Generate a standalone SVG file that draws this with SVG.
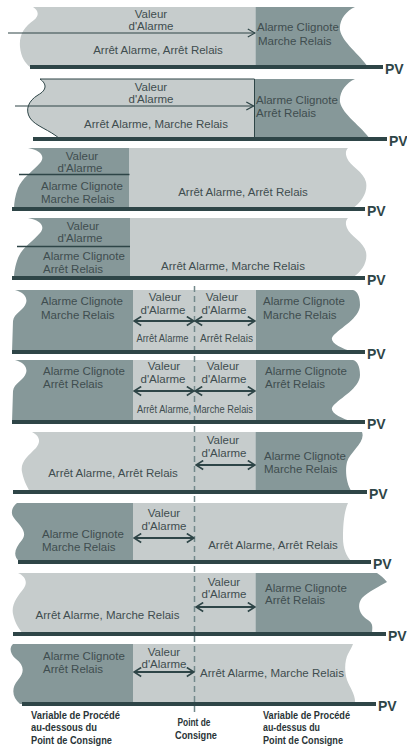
<svg xmlns="http://www.w3.org/2000/svg" width="407" height="750" viewBox="0 0 407 750">
<style>
.lt{fill:#c6cccc}
.dk{fill:#869899}
.t{font-family:"Liberation Sans",Arial,sans-serif;font-size:11.5px;fill:#3f4d4f}
.c{text-anchor:middle}
.pv{font-family:"Liberation Sans",Arial,sans-serif;font-size:14px;font-weight:bold;fill:#2e4547}
.b{font-family:"Liberation Sans",Arial,sans-serif;font-size:10px;font-weight:bold;fill:#2a3537}
.ax{stroke:#2e4547;stroke-width:4;fill:none}
.ar1{stroke:#2e4547;stroke-width:1.2;fill:none}
.ar2{stroke:#2e4547;stroke-width:1.8;fill:none}
.sep{stroke:#2e4547;stroke-width:1.6;fill:none}
.dash{stroke:#72888a;stroke-width:1.5;stroke-dasharray:6 4;fill:none}
</style>
<defs>
<marker id="h1" viewBox="0 0 10 10" refX="9" refY="5" markerWidth="9" markerHeight="10" markerUnits="userSpaceOnUse" orient="auto-start-reverse">
<path d="M1,0.5 L9,5 L1,9.5" fill="none" stroke="#2e4547" stroke-width="1.3"/>
</marker>
<marker id="h2" viewBox="0 0 10 12" refX="9" refY="6" markerWidth="9" markerHeight="11" markerUnits="userSpaceOnUse" orient="auto-start-reverse">
<path d="M1,1 L9,6 L1,11" fill="none" stroke="#2e4547" stroke-width="1.8"/>
</marker>
<clipPath id="c1"><path d="M33,7 C38,10 40,15 34,20 C24,27 19,35 20,47 C21,57 25,63 30,67 L368,67 C360,55 342,42 340,30 C339,20 346,11 355,7 Z"/></clipPath>
<clipPath id="c2"><path d="M40,79 C47,84 47,90 38,95 C28,101 25,110 30,118 C35,126 50,130 60,139 L370,139 C362,127 342,114 340,102 C339,92 346,83 355,79 Z"/></clipPath>
<clipPath id="c3"><path d="M28,148 C40,150 46,156 40,163 C32,172 22,178 18,188 C15,196 14,203 14,209 L352,209 C362,202 368,192 366,182 C364,172 350,166 347,158 C345,153 346,150 348,148 Z"/></clipPath>
<clipPath id="c4"><path d="M28,218 C40,220 46,226 40,233 C32,242 22,248 18,258 C15,266 14,273 14,278 L352,278 C362,272 368,262 366,252 C364,242 350,236 347,228 C345,223 346,220 348,218 Z"/></clipPath>
<clipPath id="c5"><path d="M15,290 C23,292 28,297 26,303 C24,310 14,313 13,321 L12,352 L353,352 C340,348 328,342 333,336 C340,328 360,318 360,305 C360,296 357,291 353,290 Z"/></clipPath>
<clipPath id="c6"><path d="M15,360 C23,362 28,367 26,373 C24,380 14,383 13,391 L12,422 L353,422 C340,418 328,412 333,406 C340,398 360,388 360,375 C360,366 357,361 353,360 Z"/></clipPath>
<clipPath id="c7"><path d="M32,432 C40,436 41,442 36,448 C28,456 20,462 22,472 C24,482 28,488 30,492 L352,492 C346,484 345,470 347,462 C350,452 366,442 362,432 Z"/></clipPath>
<clipPath id="c8"><path d="M17,503 C12,507 10,513 14,518 C20,526 28,532 22,540 C15,548 12,556 20,562 L352,562 C346,556 343,548 343,538 C343,525 344,512 348,503 Z"/></clipPath>
<clipPath id="c9"><path d="M18,573 C25,576 28,582 24,588 C18,596 11,604 13,614 C15,624 20,630 23,634 L372,634 C372,628 374,624 368,620 C360,615 356,606 362,598 C368,592 380,586 387,582 C384,578 380,575 377,573 Z"/></clipPath>
<clipPath id="c10"><path d="M13,644 C9,648 10,654 16,659 C24,665 25,672 18,680 C11,688 12,697 20,704 L355,704 C356,695 350,688 347,680 C344,670 345,660 348,654 C350,650 352,647 353,644 Z"/></clipPath>
</defs>

<g id="panel1">
<g clip-path="url(#c1)"><rect class="lt" x="0" y="0" width="255.5" height="72"/><rect class="dk" x="255.5" y="0" width="152" height="72"/></g>
<text class="t c" x="151" y="18">Valeur</text>
<text class="t c" x="151" y="30">d'Alarme</text>
<text class="t c" x="158" y="54">Arrêt Alarme, Arrêt Relais</text>
<text class="t" x="257" y="31">Alarme Clignote</text>
<text class="t" x="258" y="45">Marche Relais</text>
</g>

<g id="panel2">
<g clip-path="url(#c2)"><rect class="lt" x="0" y="75" width="254.5" height="70"/><rect class="dk" x="254.5" y="75" width="153" height="70"/></g>
<path d="M60,139 C50,130 35,126 30,118 C25,110 28,101 38,95 C47,90 47,84 40,79 L254.5,79 L254.5,139" fill="none" stroke="#2e4547" stroke-width="1"/>
<text class="t c" x="151" y="91">Valeur</text>
<text class="t c" x="151" y="103">d'Alarme</text>
<text class="t c" x="156" y="128">Arrêt Alarme, Marche Relais</text>
<text class="t" x="256" y="104">Alarme Clignote</text>
<text class="t" x="256" y="117">Arrêt Relais</text>
</g>

<g id="panel3">
<g clip-path="url(#c3)"><rect class="dk" x="0" y="145" width="129.5" height="70"/><rect class="lt" x="129.5" y="145" width="278" height="70"/></g>
<text class="t c" x="82" y="160">Valeur</text>
<text class="t c" x="80" y="172">d'Alarme</text>
<text class="t" x="41" y="190">Alarme Clignote</text>
<text class="t" x="41" y="203">Marche Relais</text>
<text class="t c" x="243" y="196">Arrêt Alarme, Arrêt Relais</text>
</g>

<g id="panel4">
<g clip-path="url(#c4)"><rect class="dk" x="0" y="215" width="130" height="70"/><rect class="lt" x="130" y="215" width="278" height="70"/></g>
<text class="t c" x="83" y="230">Valeur</text>
<text class="t c" x="80" y="242">d'Alarme</text>
<text class="t" x="43" y="260">Alarme Clignote</text>
<text class="t" x="43" y="273">Arrêt Relais</text>
<text class="t c" x="233" y="270">Arrêt Alarme, Marche Relais</text>
</g>

<g id="panel5">
<g clip-path="url(#c5)"><rect class="dk" x="0" y="285" width="133" height="72"/><rect class="lt" x="133" y="285" width="123" height="72"/><rect class="dk" x="256" y="285" width="152" height="72"/></g>
<text class="t c" x="165" y="301">Valeur</text>
<text class="t c" x="163" y="314">d'Alarme</text>
<text class="t c" x="222" y="301">Valeur</text>
<text class="t c" x="224" y="314">d'Alarme</text>
<text class="t c" x="162.5" y="342" textLength="52" lengthAdjust="spacingAndGlyphs">Arrêt Alarme</text>
<text class="t c" x="226.5" y="342" textLength="53" lengthAdjust="spacingAndGlyphs">Arrêt Relais</text>
<text class="t" x="41" y="305">Alarme Clignote</text>
<text class="t" x="41" y="319">Marche Relais</text>
<text class="t" x="263" y="305">Alarme Clignote</text>
<text class="t" x="263" y="319">Marche Relais</text>
</g>

<g id="panel6">
<g clip-path="url(#c6)"><rect class="dk" x="0" y="355" width="133" height="72"/><rect class="lt" x="133" y="355" width="123" height="72"/><rect class="dk" x="256" y="355" width="152" height="72"/></g>
<text class="t c" x="164" y="370">Valeur</text>
<text class="t c" x="163" y="383">d'Alarme</text>
<text class="t c" x="223" y="370">Valeur</text>
<text class="t c" x="224" y="383">d'Alarme</text>
<text class="t c" x="195" y="413" textLength="116" lengthAdjust="spacingAndGlyphs">Arrêt Alarme, Marche Relais</text>
<text class="t" x="43" y="375">Alarme Clignote</text>
<text class="t" x="43" y="388">Arrêt Relais</text>
<text class="t" x="265" y="375">Alarme Clignote</text>
<text class="t" x="265" y="388">Arrêt Relais</text>
</g>

<g id="panel7">
<g clip-path="url(#c7)"><rect class="lt" x="0" y="428" width="255.5" height="70"/><rect class="dk" x="255.5" y="428" width="152" height="70"/></g>
<text class="t c" x="223" y="444">Valeur</text>
<text class="t c" x="224" y="457">d'Alarme</text>
<text class="t c" x="113" y="477">Arrêt Alarme, Arrêt Relais</text>
<text class="t" x="264" y="460">Alarme Clignote</text>
<text class="t" x="264" y="473">Marche Relais</text>
</g>

<g id="panel8">
<g clip-path="url(#c8)"><rect class="dk" x="0" y="498" width="133" height="70"/><rect class="lt" x="133" y="498" width="275" height="70"/></g>
<text class="t c" x="164" y="517">Valeur</text>
<text class="t c" x="164" y="530">d'Alarme</text>
<text class="t" x="42" y="538">Alarme Clignote</text>
<text class="t" x="42" y="551">Marche Relais</text>
<text class="t c" x="273" y="549">Arrêt Alarme, Arrêt Relais</text>
</g>

<g id="panel9">
<g clip-path="url(#c9)"><rect class="lt" x="0" y="568" width="255.5" height="72"/><rect class="dk" x="255.5" y="568" width="152" height="72"/></g>
<text class="t c" x="224" y="586">Valeur</text>
<text class="t c" x="224" y="598">d'Alarme</text>
<text class="t c" x="107.5" y="619">Arrêt Alarme, Marche Relais</text>
<text class="t" x="265" y="592">Alarme Clignote</text>
<text class="t" x="265" y="604">Arrêt Relais</text>
</g>

<g id="panel10">
<g clip-path="url(#c10)"><rect class="dk" x="0" y="640" width="133" height="70"/><rect class="lt" x="133" y="640" width="275" height="70"/></g>
<text class="t c" x="164" y="656">Valeur</text>
<text class="t c" x="164" y="668">d'Alarme</text>
<text class="t" x="43" y="660">Alarme Clignote</text>
<text class="t" x="43" y="673">Arrêt Relais</text>
<text class="t c" x="272" y="677">Arrêt Alarme, Marche Relais</text>
</g>

<g id="setpoint">
<line class="dash" x1="194.5" y1="286" x2="194.5" y2="712"/>
</g>

<g id="axes">
<line class="ax" x1="30" y1="67" x2="383" y2="67"/>
<text class="pv" x="385" y="74">PV</text>
<line class="ax" x1="33" y1="139" x2="387" y2="139"/>
<text class="pv" x="389" y="146">PV</text>
<line class="ax" x1="12" y1="209" x2="365" y2="209"/>
<text class="pv" x="367" y="216">PV</text>
<line class="ax" x1="12" y1="278" x2="365" y2="278"/>
<text class="pv" x="367" y="285">PV</text>
<line class="ax" x1="12" y1="352" x2="365" y2="352"/>
<text class="pv" x="367" y="359">PV</text>
<line class="ax" x1="12" y1="422" x2="365" y2="422"/>
<text class="pv" x="367" y="429">PV</text>
<line class="ax" x1="13" y1="492" x2="367" y2="492"/>
<text class="pv" x="369" y="499">PV</text>
<line class="ax" x1="18" y1="562" x2="371" y2="562"/>
<text class="pv" x="373" y="569">PV</text>
<line class="ax" x1="13" y1="634" x2="386" y2="634"/>
<text class="pv" x="388" y="641">PV</text>
<line class="ax" x1="22" y1="704" x2="376" y2="704"/>
<text class="pv" x="378" y="711">PV</text>
</g>

<g id="connectors">
<line class="ar1" x1="8" y1="33" x2="255" y2="33" marker-end="url(#h1)"/>
<line class="ar1" x1="15" y1="106" x2="253.5" y2="106" marker-end="url(#h1)"/>
<line class="sep" x1="19" y1="174.5" x2="129.5" y2="174.5"/>
<line class="sep" x1="17" y1="246.5" x2="130" y2="246.5"/>
<line class="ar2" x1="134" y1="321" x2="194" y2="321" marker-start="url(#h2)" marker-end="url(#h2)"/>
<line class="ar2" x1="195" y1="321" x2="255" y2="321" marker-start="url(#h2)" marker-end="url(#h2)"/>
<line class="ar2" x1="134" y1="391" x2="194" y2="391" marker-start="url(#h2)" marker-end="url(#h2)"/>
<line class="ar2" x1="195" y1="391" x2="255" y2="391" marker-start="url(#h2)" marker-end="url(#h2)"/>
<line class="ar2" x1="196" y1="465" x2="255" y2="465" marker-start="url(#h2)" marker-end="url(#h2)"/>
<line class="ar2" x1="134" y1="538" x2="194" y2="538" marker-start="url(#h2)" marker-end="url(#h2)"/>
<line class="ar2" x1="196" y1="607" x2="255" y2="607" marker-start="url(#h2)" marker-end="url(#h2)"/>
<line class="ar2" x1="134" y1="672" x2="194" y2="672" marker-start="url(#h2)" marker-end="url(#h2)"/>
</g>

<g id="labels">
<text class="b" x="31" y="719" textLength="89" lengthAdjust="spacingAndGlyphs">Variable de Procédé</text>
<text class="b" x="31" y="731" textLength="66" lengthAdjust="spacingAndGlyphs">au-dessous du</text>
<text class="b" x="31" y="744" textLength="81" lengthAdjust="spacingAndGlyphs">Point de Consigne</text>
<text class="b c" x="194" y="726" textLength="33" lengthAdjust="spacingAndGlyphs">Point de</text>
<text class="b c" x="196" y="739" textLength="42" lengthAdjust="spacingAndGlyphs">Consigne</text>
<text class="b" x="263" y="719" textLength="87" lengthAdjust="spacingAndGlyphs">Variable de Procédé</text>
<text class="b" x="263" y="731" textLength="57" lengthAdjust="spacingAndGlyphs">au-dessus du</text>
<text class="b" x="263" y="744" textLength="80" lengthAdjust="spacingAndGlyphs">Point de Consigne</text>
</g>
</svg>
